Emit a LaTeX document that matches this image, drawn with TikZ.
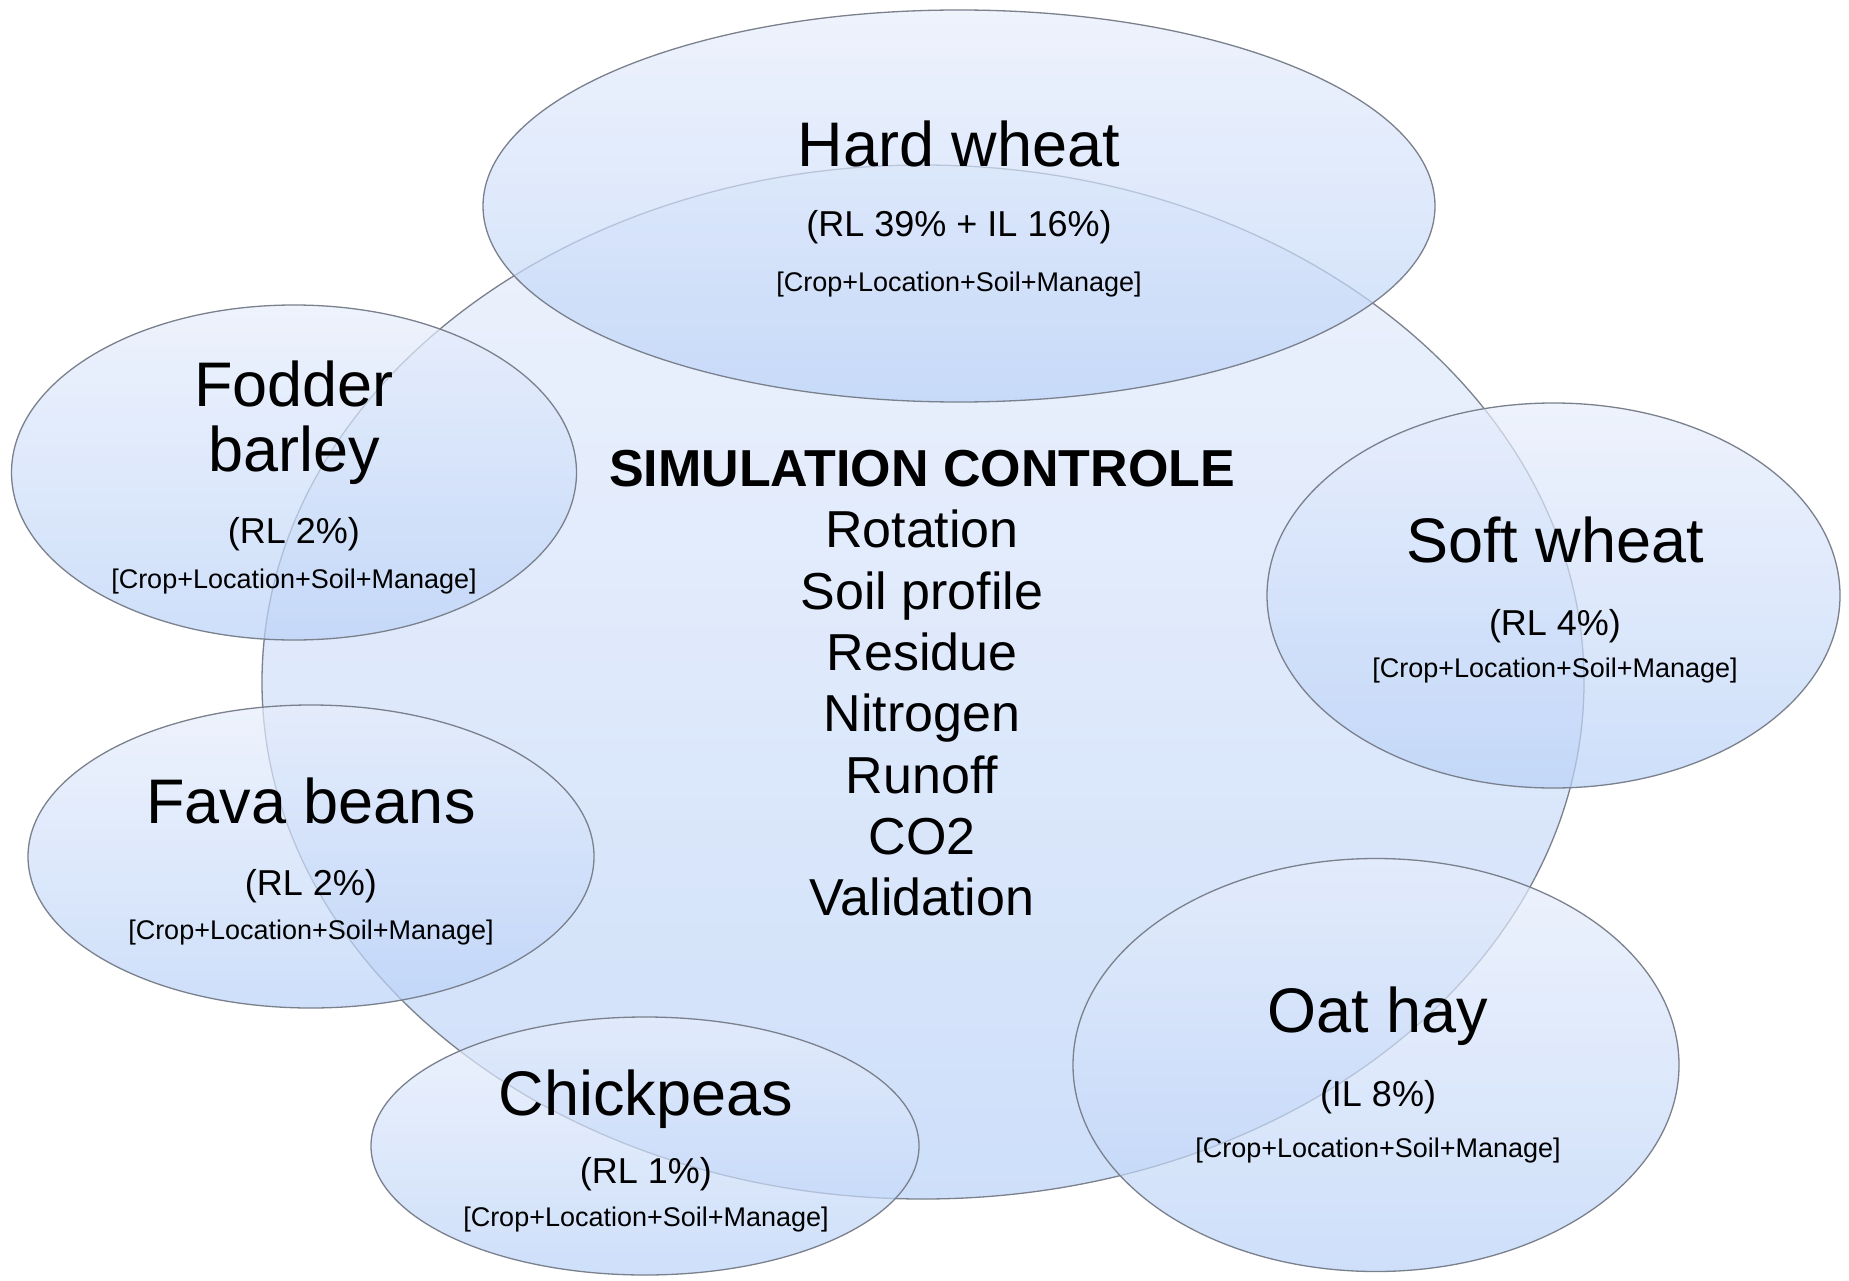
\documentclass[tikz,border=0pt]{standalone}
\usepackage{fontspec}
\setmainfont{Liberation Sans}
\usetikzlibrary{shapes.geometric}
\definecolor{blobtop}{RGB}{231,238,252}
\definecolor{blobbot}{RGB}{186,210,248}
\definecolor{blobline}{RGB}{122,128,140}
\begin{document}
\begin{tikzpicture}[x=1pt,y=-1pt,
  blob/.style={ellipse, draw=blobline, line width=1.3pt, top color=blobtop, bottom color=blobbot,
    fill opacity=0.7, draw opacity=1, inner sep=0pt},
  ttl/.style={anchor=base, inner sep=0pt, font=\fontsize{63}{63}\selectfont},
  sub/.style={anchor=base, inner sep=0pt, font=\fontsize{36}{36}\selectfont},
  tag/.style={anchor=base, inner sep=0pt, font=\fontsize{27}{27}\selectfont},
]
\useasboundingbox (0,0) rectangle (1849,1281);
\fill[white] (0,0) rectangle (1849,1281);

% ellipses
\node[blob, minimum width=1322pt, minimum height=1034pt] (core) at (923,682) {};
\node[blob, minimum width=952pt, minimum height=392pt] (hard) at (959,206) {};
\node[blob, minimum width=565pt, minimum height=335pt] (fodder) at (294,472.5) {};
\node[blob, minimum width=573pt, minimum height=385pt] (soft) at (1553.5,595.5) {};
\node[blob, minimum width=566pt, minimum height=303pt] (fava) at (311,856.5) {};
\node[blob, minimum width=548pt, minimum height=258pt] (chick) at (645,1146) {};
\node[blob, minimum width=606pt, minimum height=413pt] (oat) at (1376,1065) {};

% centre text
\node[anchor=north, inner sep=0pt, align=center, font=\fontsize{52}{61.3}\selectfont] (ctl) at (922,450)
  {\textbf{SIMULATION CONTROLE}\\Rotation\\Soil profile\\Residue\\Nitrogen\\Runoff\\CO2\\Validation};

% hard wheat
\node[ttl] (hard-t) at (959,167) {Hard wheat};
\node[sub] (hard-s) at (959,237) {(RL 39\% + IL 16\%)};
\node[tag] (hard-g) at (959,291.5) {[Crop+Location+Soil+Manage]};
% fodder barley
\node[ttl] (fodder-t1) at (294,406.7) {Fodder};
\node[ttl] (fodder-t2) at (294,471.7) {barley};
\node[sub] (fodder-s) at (294,543) {(RL 2\%)};
\node[tag] (fodder-g) at (294,588) {[Crop+Location+Soil+Manage]};
% soft wheat
\node[ttl] (soft-t) at (1555,562) {Soft wheat};
\node[sub] (soft-s) at (1555,635) {(RL 4\%)};
\node[tag] (soft-g) at (1555,677) {[Crop+Location+Soil+Manage]};
% fava beans
\node[ttl] (fava-t) at (311,823) {Fava beans};
\node[sub] (fava-s) at (311,895) {(RL 2\%)};
\node[tag] (fava-g) at (311,939) {[Crop+Location+Soil+Manage]};
% chickpeas
\node[ttl] (chick-t) at (646,1115) {Chickpeas};
\node[sub] (chick-s) at (646,1183) {(RL 1\%)};
\node[tag] (chick-g) at (646,1226.7) {[Crop+Location+Soil+Manage]};
% oat hay
\node[ttl] (oat-t) at (1378,1032) {Oat hay};
\node[sub] (oat-s) at (1378,1106) {(IL 8\%)};
\node[tag] (oat-g) at (1378,1157) {[Crop+Location+Soil+Manage]};
\end{tikzpicture}
\end{document}
